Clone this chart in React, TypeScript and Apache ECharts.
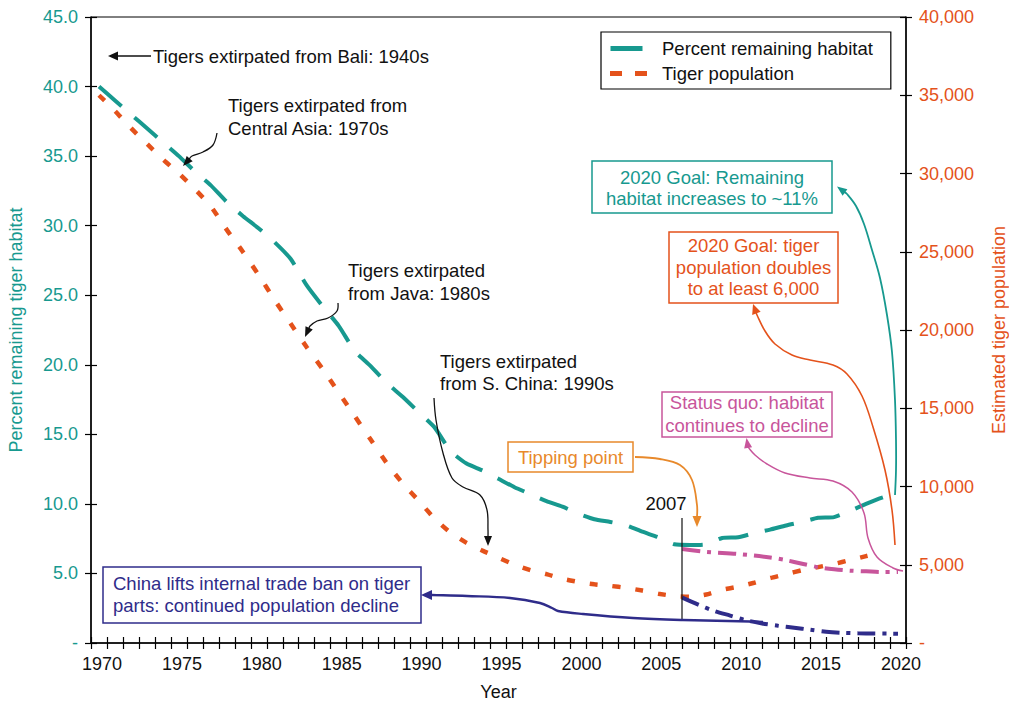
import React, { useEffect, useRef } from 'react';
import * as echarts from 'echarts';

// ---------- data ----------
const years: number[] = Array.from({ length: 51 }, (_, i) => 1970 + i);

// Percent remaining tiger habitat (left axis), 1970-2020
const habitat: number[] = [
  40.0, 39.0, 38.0, 37.0, 36.0, 35.0, 33.9, 32.9, 31.7, 30.7,
  29.8, 28.8, 27.6, 25.7, 24.2, 22.8, 21.0, 19.9, 18.7, 17.7,
  16.6, 15.5, 13.8, 12.9, 12.4, 11.8, 11.2, 10.7, 10.2, 9.8,
  9.3, 8.9, 8.7, 8.45, 8.0, 7.6, 7.1, 7.05, 7.1, 7.55,
  7.6, 7.9, 8.15, 8.45, 8.7, 9.0, 9.05, 9.5, 10.0, 10.45,
  10.8,
];

// Estimated tiger population (right axis), 1970-2019
const population: number[] = [
  35000, 34000, 32900, 31900, 30900, 30000, 29000, 27900, 26400, 25000,
  23500, 21900, 20400, 18900, 17500, 16000, 14500, 13000, 11500, 10200,
  9100, 7950, 7050, 6400, 5900, 5450, 5000, 4650, 4400, 4100,
  3900, 3750, 3650, 3520, 3350, 3150, 3000, 2950, 3100, 3400,
  3600, 3850, 4150, 4400, 4650, 4850, 5050, 5300, 5550, 5800,
];

// Status quo: habitat continues to decline (left axis)
const statusQuoYears: number[] = [2006.5, 2008, 2010, 2012, 2013, 2014, 2015, 2016, 2017, 2018, 2019, 2020];
const statusQuoHabitat: number[] = [6.75, 6.55, 6.4, 6.15, 5.95, 5.7, 5.45, 5.3, 5.2, 5.15, 5.1, 5.1];

// Continued population decline (right axis)
const declineYears: number[] = [2006.5, 2007.5, 2008.5, 2009.5, 2010.5, 2011.5, 2012.5, 2013.5, 2014.5, 2015.5, 2016.5, 2017.5, 2018.5, 2019.5, 2020];
const declinePopulation: number[] = [2900, 2450, 2050, 1750, 1450, 1250, 1100, 980, 850, 720, 650, 620, 610, 600, 590];

const xLabelYears: number[] = [1970, 1975, 1980, 1985, 1990, 1995, 2000, 2005, 2010, 2015, 2020];

// ---------- styles ----------
const FONT = '"Liberation Sans", Arial, Helvetica, sans-serif';
const FS = 18.5;
const TEAL = '#17998f';
const ORANGE = '#e4521b';
const MAGENTA = '#c8559b';
const NAVY = '#2f2c8a';
const TIP = '#e8892b';
const INK = '#111111';

type P = [number, number];

function arrowHead(tip: P, from: P, color: string, len = 10, w = 8) {
  const dx = tip[0] - from[0];
  const dy = tip[1] - from[1];
  const d = Math.hypot(dx, dy) || 1;
  const ux = dx / d, uy = dy / d;
  const bx = tip[0] - ux * len, by = tip[1] - uy * len;
  const px = -uy * (w / 2), py = ux * (w / 2);
  return {
    type: 'polygon', z: 20, silent: true,
    shape: { points: [tip, [bx + px, by + py], [bx - px, by - py]] },
    style: { fill: color },
  };
}

function arrowCurve(pts: P[], color: string, width: number, len = 10, w = 8) {
  const tip = pts[0];
  const from = pts[1];
  const dx = tip[0] - from[0], dy = tip[1] - from[1];
  const d = Math.hypot(dx, dy) || 1;
  const base: P = [tip[0] - (dx / d) * (len - 1), tip[1] - (dy / d) * (len - 1)];
  const line = [base, ...pts.slice(1)];
  return [
    {
      type: 'polyline', z: 19, silent: true,
      shape: { points: line, smooth: 0.35 },
      style: { stroke: color, lineWidth: width, fill: null },
    },
    arrowHead(tip, from, color, len, w),
  ];
}

function label(x: number, y: number, text: string, color: string, align = 'left', lh = 22) {
  return {
    type: 'text', z: 22, silent: true, x, y,
    style: {
      text, fill: color, font: `${FS}px ${FONT}`, fontSize: FS, fontFamily: FONT,
      align, verticalAlign: 'middle', lineHeight: lh,
    },
  };
}

function box(x: number, y: number, w: number, h: number, color: string) {
  return {
    type: 'rect', z: 21, silent: true,
    shape: { x, y, width: w, height: h },
    style: { fill: '#ffffff', stroke: color, lineWidth: 1.5 },
  };
}

export default function App() {
  const ref = useRef<HTMLDivElement>(null);

  useEffect(() => {
    if (!ref.current) return;
    const chart = echarts.init(ref.current, undefined, { renderer: 'svg' });

    const tickYears: number[] = [];
    for (let y = 1969.5; y <= 2020.5; y += 1) tickYears.push(y);

    const graphics: any[] = [
      // Bali
      ...arrowCurve([[108, 56], [125, 56], [151, 56]], INK, 1.3, 10, 9),
      label(153, 56, 'Tigers extirpated from Bali: 1940s', INK),
      // Central Asia
      label(228, 116.5, 'Tigers extirpated from\nCentral Asia: 1970s', INK, 'left', 23),
      ...arrowCurve([[183, 166], [192, 156], [203, 152], [213, 145], [217, 133]], INK, 1.3, 10, 8),
      // Java
      label(348, 281.5, 'Tigers extirpated\nfrom Java: 1980s', INK, 'left', 23),
      ...arrowCurve([[305, 337], [310, 326], [317, 321], [328, 318], [337, 311], [338, 303]], INK, 1.3, 10, 8),
      // S. China
      label(440, 372, 'Tigers extirpated\nfrom S. China: 1990s', INK, 'left', 22),
      ...arrowCurve([[488, 546], [488, 530], [487, 510], [480, 495], [463, 487], [452, 478], [443, 453], [436, 420], [434, 398]], INK, 1.3, 10, 8),
      // Tipping point
      box(508, 442, 125, 30, TIP),
      label(570.5, 457, 'Tipping point', TIP, 'center'),
      ...arrowCurve([[697, 527], [697, 505], [692, 480], [680, 465], [660, 459], [635, 457]], TIP, 1.8, 11, 9),
      // 2007 marker
      label(666, 503, '2007', INK, 'center'),
      {
        type: 'line', z: 19, silent: true,
        shape: { x1: 682, y1: 518, x2: 682, y2: 620 },
        style: { stroke: INK, lineWidth: 1.2 },
      },
      // Status quo
      box(662, 392, 170, 45, MAGENTA),
      label(747, 414, 'Status quo: habitat\ncontinues to decline', MAGENTA, 'center', 22.5),
      ...arrowCurve([[746.5, 438], [748, 447], [755, 455], [767, 464], [785, 473], [810, 478], [833, 481], [852, 492], [864, 513], [868, 538], [877, 557], [893, 568], [903, 571]], MAGENTA, 1.5, 10, 8),
      // 2020 goal: tiger population
      box(669, 232, 169, 71, ORANGE),
      label(753.5, 267, '2020 Goal: tiger\npopulation doubles\nto at least 6,000', ORANGE, 'center', 21.7),
      ...arrowCurve([[753, 304], [757, 315], [765, 331], [775, 344], [792, 355], [810, 360], [833, 365], [847, 374], [862, 396], [873, 427], [885, 470], [892, 510], [895, 545]], ORANGE, 1.6, 10, 9),
      // 2020 goal: habitat
      box(592, 161, 240, 52, TEAL),
      label(712, 187.5, '2020 Goal: Remaining\nhabitat increases to ~11%', TEAL, 'center', 21),
      ...arrowCurve([[837, 186.5], [847, 194], [856, 206], [864, 224], [872, 250], [880, 278], [887, 315], [892, 352], [895, 400], [896, 440], [896, 470], [895, 495]], TEAL, 1.8, 10, 8),
      // China trade ban
      box(103, 567, 318, 56, NAVY),
      label(113, 594.5, 'China lifts internal trade ban on tiger\nparts: continued population decline', NAVY, 'left', 22),
      ...arrowCurve([[421, 595], [432, 595], [467, 596], [510, 598], [540, 603], [552, 608], [558, 611], [583, 614], [633, 618], [683, 620], [750, 621.5], [763, 622]], NAVY, 2.4, 11, 10),
    ];

    const tickStyle = { color: '#000', width: 1.2 };

    const option: any = {
      animation: false,
      backgroundColor: '#ffffff',
      textStyle: { fontFamily: FONT },
      grid: {
        left: 91, right: 1009 - 906, top: 17, bottom: 701 - 643,
        outerBoundsMode: 'none', containLabel: false,
        show: true, borderColor: '#000', borderWidth: 1, backgroundColor: 'transparent',
      },
      legend: {
        show: true,
        orient: 'vertical',
        left: 601,
        top: 32,
        padding: [7, 18, 6, 9],
        itemGap: 6,
        itemWidth: 47,
        itemHeight: 5,
        borderColor: '#000',
        borderWidth: 1.2,
        backgroundColor: '#fff',
        selectedMode: false,
        itemStyle: { borderWidth: 0 },
        textStyle: { color: INK, fontSize: FS, fontFamily: FONT },
        data: [
          { name: 'Percent remaining habitat', icon: 'path://M1,0H33V5H1Z M47,0L47,5' },
          { name: 'Tiger population', icon: 'path://M0,0H12V5H0Z M25,0H37V5H25Z M47,0L47,5' },
        ],
      },
      xAxis: [
        {
          type: 'value', min: 1969.5, max: 2020.5, position: 'bottom',
          name: 'Year', nameLocation: 'middle', nameGap: 40,
          nameTextStyle: { color: INK, fontSize: 18, fontFamily: FONT },
          axisLine: { show: true, onZero: false, lineStyle: { color: '#000', width: 1.5 } },
          axisTick: { show: true, length: 6, customValues: tickYears, lineStyle: tickStyle },
          axisLabel: {
            customValues: xLabelYears, color: INK, fontSize: 18, margin: 12, padding: [0, 0, 0, 6],
            formatter: (v: number) => String(Math.round(v)),
          },
          splitLine: { show: false },
        },
        {
          type: 'value', min: 1969.5, max: 2020.5, position: 'bottom',
          axisLine: { show: false, onZero: false },
          axisTick: { show: true, inside: true, length: 6, customValues: tickYears, lineStyle: tickStyle },
          axisLabel: { show: false },
          splitLine: { show: false },
        },
      ],
      yAxis: [
        {
          type: 'value', min: 0, max: 45, interval: 5, position: 'left',
          name: 'Percent remaining tiger habitat', nameLocation: 'middle', nameGap: 66,
          nameTextStyle: { color: TEAL, fontSize: 18, fontFamily: FONT },
          axisLine: { show: true, onZero: false, lineStyle: { color: '#000', width: 1.5 } },
          axisTick: { show: true, length: 6, lineStyle: tickStyle },
          axisLabel: {
            color: TEAL, fontSize: 18, margin: 13,
            formatter: (v: number) => (v === 0 ? '-' : v.toFixed(1)),
          },
          splitLine: { show: false },
        },
        {
          type: 'value', min: 0, max: 40000, interval: 5000, position: 'right',
          name: 'Estimated tiger population', nameLocation: 'middle', nameGap: 84,
          nameTextStyle: { color: ORANGE, fontSize: 18, fontFamily: FONT },
          axisLine: { show: true, onZero: false, lineStyle: { color: '#000', width: 1.5 } },
          axisTick: { show: true, length: 6, lineStyle: tickStyle },
          axisLabel: {
            color: ORANGE, fontSize: 18, margin: 13,
            formatter: (v: number) => (v === 0 ? '-' : v.toLocaleString('en-US')),
          },
          splitLine: { show: false },
        },
        {
          type: 'value', min: 0, max: 45, interval: 5, position: 'left',
          axisLine: { show: false, onZero: false },
          axisTick: { show: true, inside: true, length: 6, lineStyle: tickStyle },
          axisLabel: { show: false }, splitLine: { show: false },
        },
        {
          type: 'value', min: 0, max: 40000, interval: 5000, position: 'right',
          axisLine: { show: false, onZero: false },
          axisTick: { show: true, inside: true, length: 6, lineStyle: tickStyle },
          axisLabel: { show: false }, splitLine: { show: false },
        },
      ],
      series: [
        {
          name: 'Percent remaining habitat', type: 'line', xAxisIndex: 0, yAxisIndex: 0,
          data: years.map((y, i) => [y, habitat[i]]),
          symbol: 'none', showSymbol: false, smooth: 0.2, z: 5,
          itemStyle: { color: TEAL },
          lineStyle: { color: TEAL, width: 4, type: [30, 17], cap: 'butt' },
        },
        {
          name: 'Tiger population', type: 'line', xAxisIndex: 0, yAxisIndex: 1,
          data: population.map((v, i) => [years[i], v]),
          symbol: 'none', showSymbol: false, smooth: 0.2, z: 4,
          itemStyle: { color: ORANGE },
          lineStyle: { color: ORANGE, width: 4.5, type: [8, 15], cap: 'butt' },
        },
        {
          name: 'Status quo habitat', type: 'line', xAxisIndex: 0, yAxisIndex: 0,
          data: statusQuoYears.map((y, i) => [y, statusQuoHabitat[i]]),
          symbol: 'none', showSymbol: false, smooth: 0.3, z: 6,
          itemStyle: { color: MAGENTA },
          lineStyle: { color: MAGENTA, width: 4, type: [18, 7, 4, 7], cap: 'butt' },
        },
        {
          name: 'Continued population decline', type: 'line', xAxisIndex: 0, yAxisIndex: 1,
          data: declineYears.map((y, i) => [y, declinePopulation[i]]),
          symbol: 'none', showSymbol: false, smooth: 0.3, z: 6,
          itemStyle: { color: NAVY },
          lineStyle: { color: NAVY, width: 4, type: [18, 7, 4, 7], cap: 'butt' },
        },
      ],
      graphic: graphics,
    };

    chart.setOption(option);
    return () => chart.dispose();
  }, []);

  return (
    <div
      ref={ref}
      style={{ position: 'fixed', left: 0, top: 0, width: 1009, height: 701, background: '#fff' }}
    />
  );
}
